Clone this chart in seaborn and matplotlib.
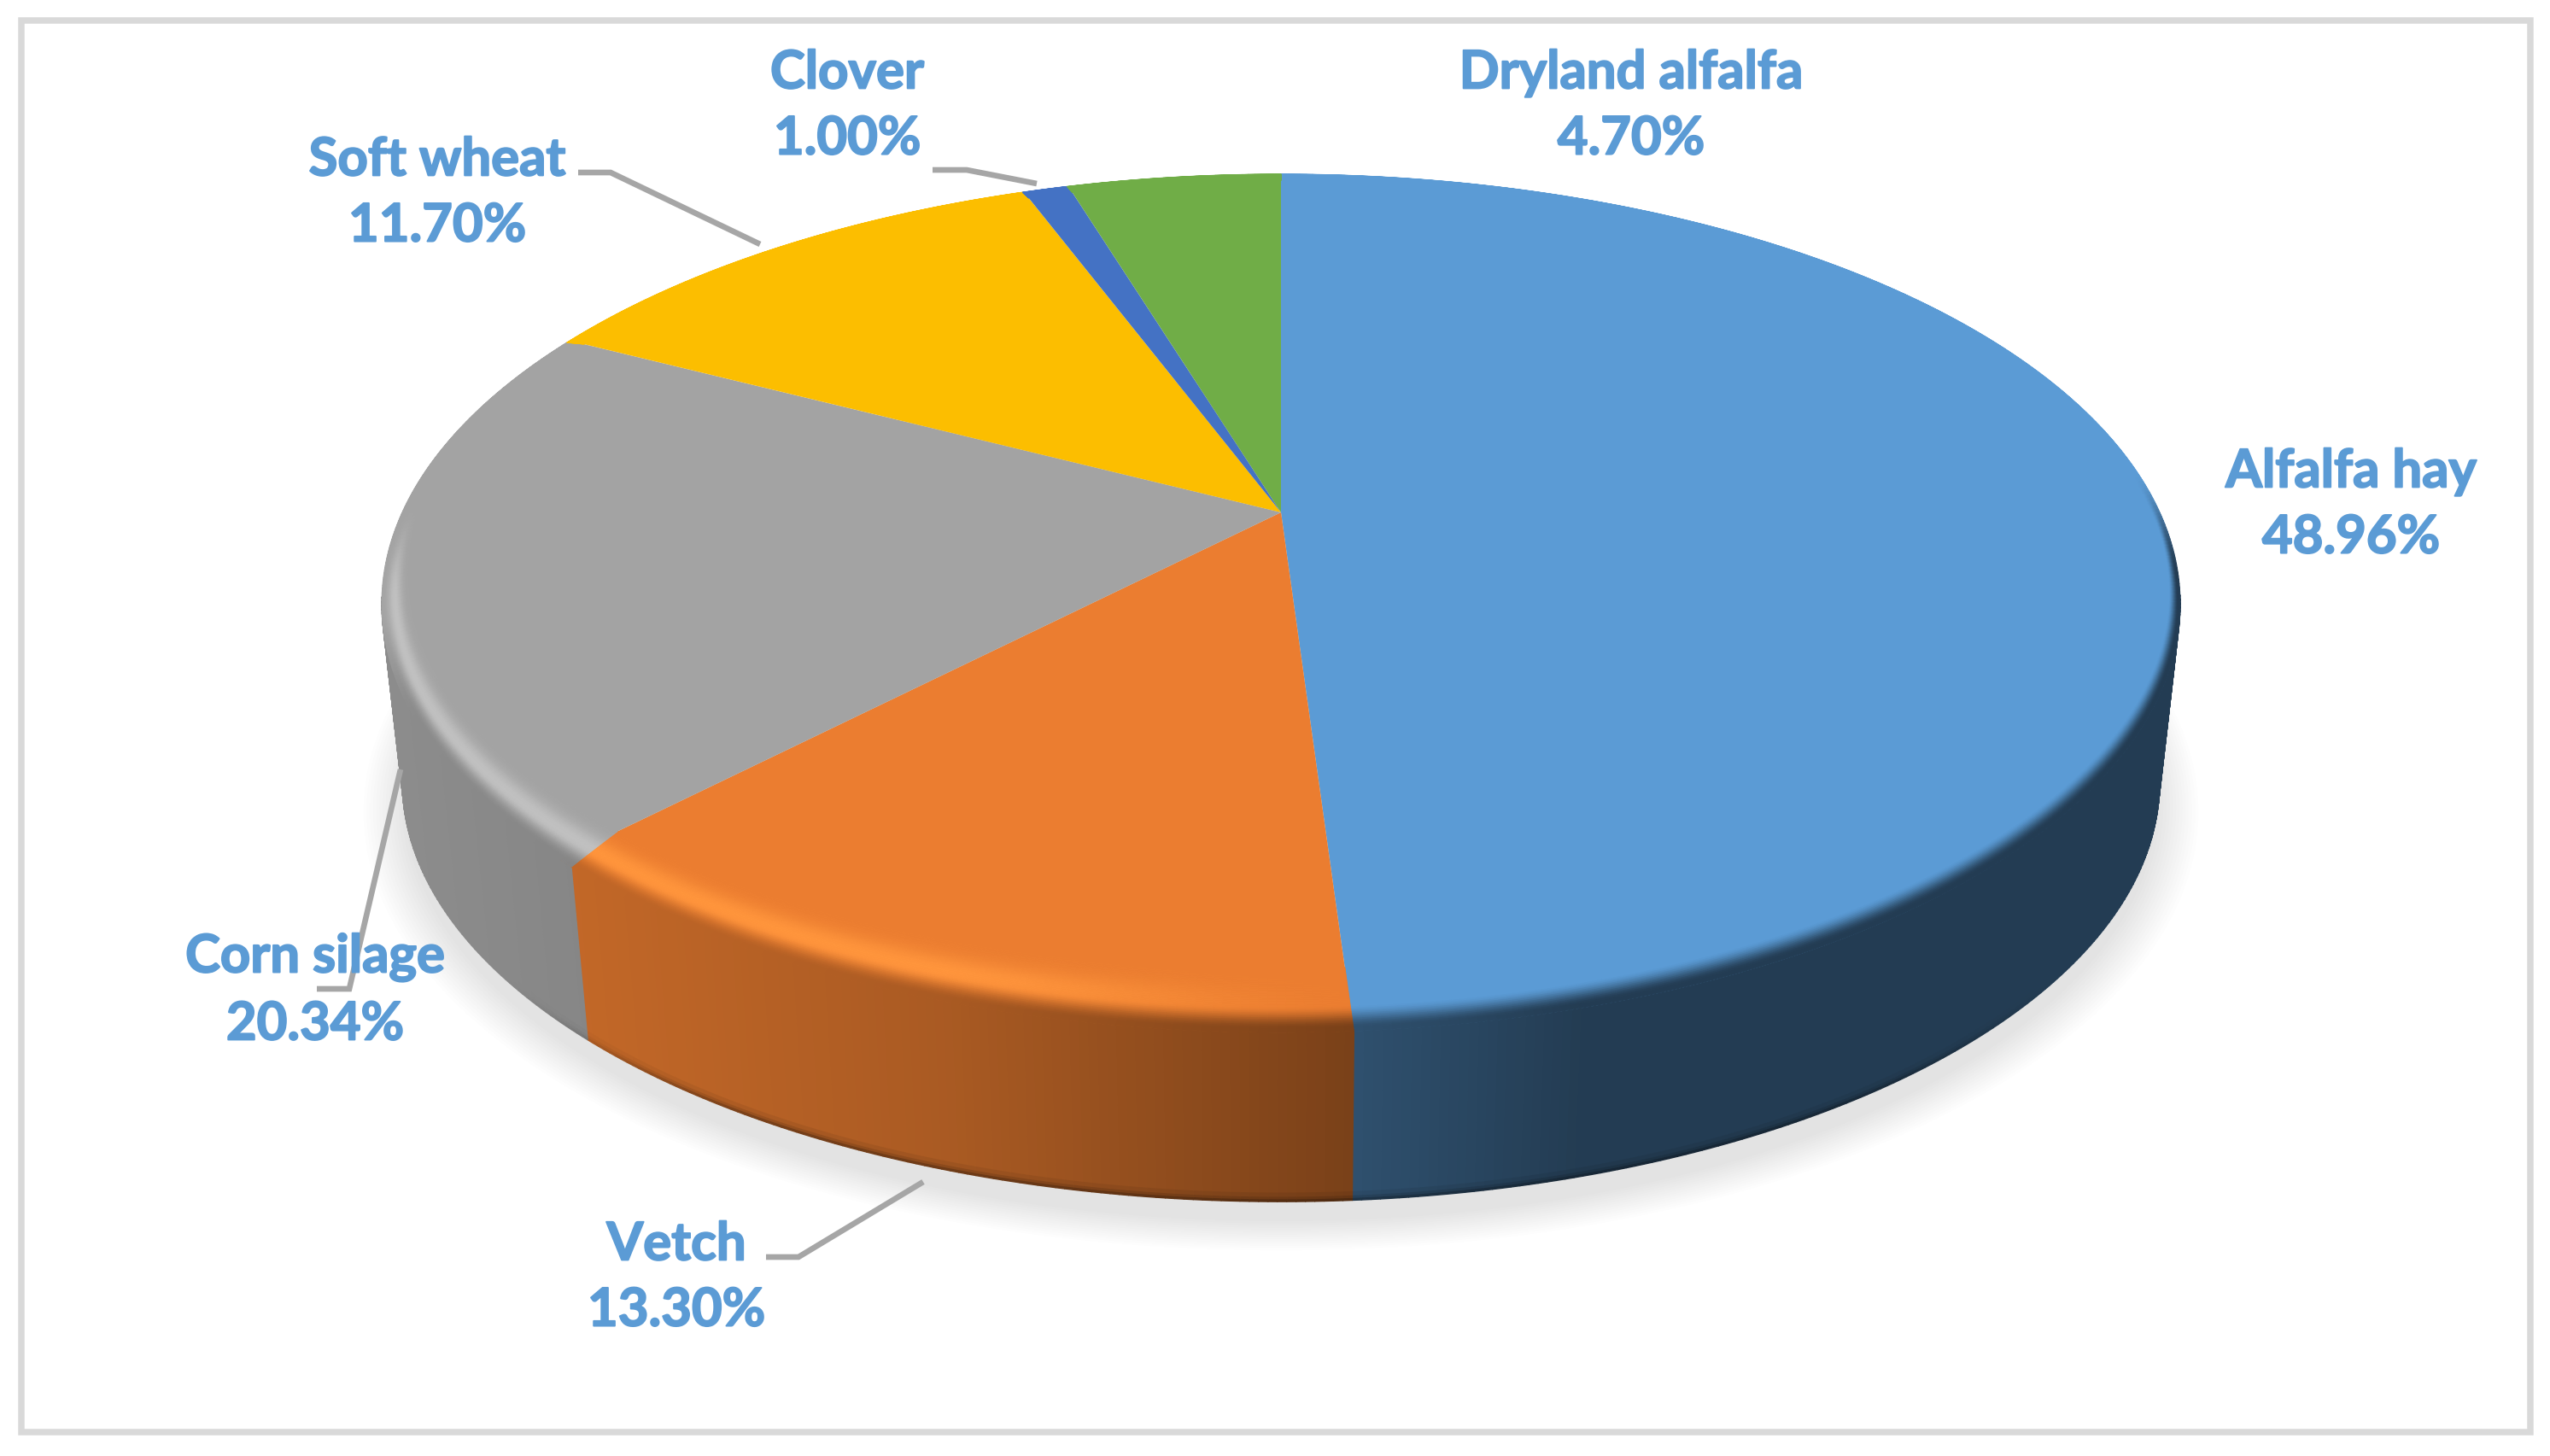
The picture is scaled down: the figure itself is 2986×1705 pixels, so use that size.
import numpy as np
import seaborn as sns
import matplotlib
matplotlib.use('Agg')
import matplotlib.pyplot as plt
import matplotlib.patheffects as pe
from matplotlib.collections import PolyCollection
from matplotlib.patches import Circle, Rectangle
from matplotlib.transforms import Transform

categories = ['Alfalfa hay', 'Vetch', 'Corn silage', 'Soft wheat', 'Clover', 'Dryland alfalfa']
shares = [48.96, 13.30, 20.34, 11.70, 1.00, 4.70]
slice_colors = ['#5B9BD5', '#EB7D30', '#A3A3A3', '#FCBE00', '#4472C4', '#70AD47']

# label centres and leader lines, in picture pixels
label_x = [2753, 792, 369, 512, 992, 1910]
label_y = [591, 1496, 1160, 226, 124, 124]
leaders = {
    'Vetch': [(897, 1472), (935, 1472), (1081, 1384)],
    'Corn silage': [(469, 901), (409, 1158), (371, 1158)],
    'Soft wheat': [(677, 202), (715, 202), (890, 286)],
    'Clover': [(1092, 199), (1132, 199), (1214, 215)],
}

W, H = 2986, 1705
CX, CY = 1500, 600
A, B, K = 1029, 480, 0.212
DROP, SHRINK = 212, 0.023


class Persp(Transform):
    # tilted disc seen in perspective, t=0 top face, t=1 bottom face
    input_dims = 2
    output_dims = 2

    def __init__(self, t=0.0):
        super().__init__()
        self.t = t

    def transform_non_affine(self, values):
        values = np.asarray(values, dtype=float)
        u, v = values[:, 0], values[:, 1]
        w = 1 + K * v
        s = 1 - SHRINK * self.t
        return np.column_stack([CX + s * A * u / w, CY + DROP * self.t - s * B * v / w])


def project(r, ang, t=0.0):
    u = r * np.sin(ang)
    v = r * np.cos(ang)
    return Persp(t).transform_non_affine(np.column_stack([u, v]))


def wall_shade(x):
    return np.interp(x, [450, 680, 1100, 1580, 1850, 2600], [0.86, 0.82, 0.72, 0.52, 0.39, 0.39])


def smooth(a, b, x):
    z = np.clip((x - a) / (b - a), 0, 1)
    return z * z * (3 - 2 * z)


def rim_width(ang):
    # the rounded edge looks wider at the front of the disc than at its sides
    return 0.022 + 0.078 * np.maximum(0, -np.cos(ang)) ** 1.5


def warp(ang):
    # slice borders lean a little on the way over the rim, lower left only
    return np.radians(np.interp(np.degrees(ang), [176, 224, 270, 360], [0, 1.1, 0.5, 0]))


sns.set_theme(style='white')
plt.rcParams['font.family'] = ['Lato', 'DejaVu Sans']
palette = sns.color_palette(slice_colors)

fig = plt.figure(figsize=(W / 200, H / 200), dpi=200)
ax = fig.add_axes([0, 0, 1, 1])

wedges, _ = ax.pie(shares, colors=palette, startangle=90, counterclock=False,
                   wedgeprops={'linewidth': 0, 'zorder': 3})
top = Persp(0) + ax.transData
for wedge in wedges:
    wedge.set_transform(top)
ax.set_aspect('auto')
ax.set_xlim(0, W)
ax.set_ylim(H, 0)
ax.axis('off')

# soft shadow under the disc
for r in np.linspace(1.0, 1.045, 14):
    ax.add_patch(Circle((0, 0), r, fc='black', ec='none', alpha=0.0085, zorder=1,
                        transform=Persp(1.116) + ax.transData))

edges = np.cumsum([0] + shares) / 100 * 2 * np.pi
t_bands = [0, 0.95, 0.975, 0.99, 1.0]
t_shade = [1.0, 0.93, 0.82, 0.65]
s_bands = np.linspace(1.0, 0.0, 41)

wall_polys, wall_cols, rim_polys, rim_cols = [], [], [], []
for i, base in enumerate(palette):
    base = np.array(base)
    n = max(4, int((edges[i + 1] - edges[i]) / np.radians(0.5)))
    ang = np.linspace(edges[i], edges[i + 1], n + 1)
    for a0, a1 in zip(ang[:-1], ang[1:]):
        mid = (a0 + a1) / 2
        pair = np.array([a0, a1])
        shifted = pair - warp(pair)
        xm = project(1.0, np.array([mid]))[0, 0]
        wall = base * wall_shade(xm)
        u, v = np.sin(mid), np.cos(mid)
        # side wall, back part is hidden anyway
        if v < -0.19:
            lip = smooth(0.6, 0.9, -v)
            for j in range(len(t_shade)):
                p0 = project(1.0, shifted, t_bands[j])
                p1 = project(1.0, shifted, t_bands[j + 1])
                wall_polys.append(np.vstack([p0, p1[::-1]]))
                wall_cols.append(wall * (1 - (1 - t_shade[j]) * lip))
        # rounded rim on the top face
        front_right = 1 - smooth(-0.15, 0.10, v)
        front_left = 1 - smooth(-0.45, -0.2, v)
        front = front_right if u > 0 else front_left
        glow = (1 - smooth(-0.2, 0.02, v)) * (1 - smooth(-0.35, 0.1, u))
        for k in range(len(s_bands) - 1):
            sm = (s_bands[k] + s_bands[k + 1]) / 2
            bump = np.exp(-((sm - 0.47) / 0.26) ** 2) * glow
            col = base + (np.minimum(base * 1.15 + 0.02, 1) - base) * bump
            blend = (1 - smooth(0.05, 0.40, sm)) * front
            col = col + (wall - col) * blend
            r0 = 1 - s_bands[k] * rim_width(pair)
            r1 = 1 - s_bands[k + 1] * rim_width(pair)
            p0 = project(r0, pair - warp(pair) * (1 - s_bands[k]))
            p1 = project(r1, pair - warp(pair) * (1 - s_bands[k + 1]))
            rim_polys.append(np.vstack([p0, p1[::-1]]))
            rim_cols.append(np.clip(col, 0, 1))

ax.add_collection(PolyCollection(wall_polys, facecolors=wall_cols, edgecolors=wall_cols,
                                 linewidths=0.5, zorder=2))
ax.add_collection(PolyCollection(rim_polys, facecolors=rim_cols, edgecolors=rim_cols,
                                 linewidths=0.4, zorder=4))

for name, pts in leaders.items():
    xs, ys = zip(*pts)
    ax.plot(xs, ys, color='#A6A6A6', lw=2.4, solid_joinstyle='miter', solid_capstyle='butt', zorder=6)

for name, val, x, y in zip(categories, shares, label_x, label_y):
    ax.text(x, y, f'{name}\n{val:.2f}%', ha='center', va='center', color='#5B9BD5',
            fontsize=22.2, fontweight='bold', linespacing=1.46, zorder=7,
            path_effects=[pe.withStroke(linewidth=0.7, foreground='#5B9BD5')])

ax.add_patch(Rectangle((25, 23.5), 2937.5, 1653, fc='none', ec='#D9D9D9', lw=2.7, zorder=8))

fig.savefig('out.png', dpi=200, facecolor='white')
